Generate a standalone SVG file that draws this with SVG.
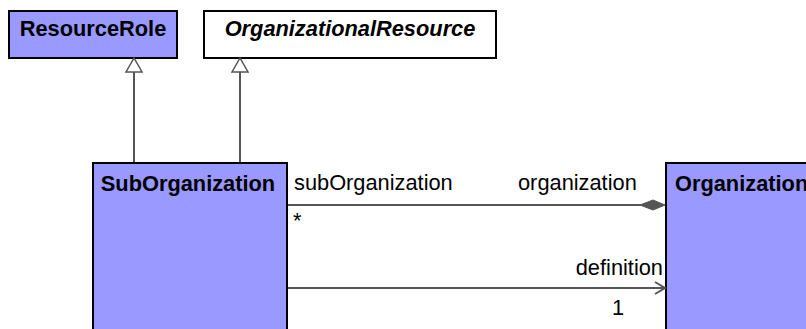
<svg xmlns="http://www.w3.org/2000/svg" width="806" height="329" viewBox="0 0 806 329">
<style>
.cls{stroke:#000;stroke-width:2}
.filled{fill:#9999FF}
.plain{fill:#fff}
.title{font-family:"Liberation Sans",Arial,sans-serif;font-size:21.8px;font-weight:bold;fill:#000}
.lbl{font-family:"Liberation Sans",Arial,sans-serif;font-size:21.8px;fill:#000}
.conn{stroke:#555;stroke-width:2;fill:none}
</style>
<rect width="806" height="329" fill="#fff"/>
<g id="ResourceRole">
<rect class="cls filled" x="9" y="11" width="168" height="47"/>
<text class="title" x="93" y="36" text-anchor="middle">ResourceRole</text>
</g>
<g id="OrganizationalResource">
<rect class="cls plain" x="204" y="11" width="292" height="47"/>
<text class="title" x="350" y="36" text-anchor="middle" font-style="italic">OrganizationalResource</text>
</g>
<g id="SubOrganization">
<rect class="cls filled" x="93" y="163" width="194" height="180"/>
<text class="title" x="188" y="191" text-anchor="middle">SubOrganization</text>
</g>
<g id="Organization">
<rect class="cls filled" x="666" y="163" width="160" height="180"/>
<text class="title" x="675" y="191">Organization</text>
</g>
<g id="connectors">
<line class="conn" x1="134" y1="72" x2="134" y2="162"/>
<polygon points="134,58 126,72 142,72" fill="#fff" stroke="#555" stroke-width="1.5"/>
<line class="conn" x1="240" y1="72" x2="240" y2="162"/>
<polygon points="240,58 232,72 248,72" fill="#fff" stroke="#555" stroke-width="1.5"/>
<line class="conn" x1="288" y1="205" x2="641" y2="205"/>
<polygon points="640,205 653,200 665,205 653,210" fill="#555" stroke="#555" stroke-width="1"/>
<line class="conn" x1="288" y1="288" x2="664" y2="288"/>
<polyline class="conn" points="655,282 665,288 655,294"/>
<text class="lbl" x="294" y="190">subOrganization</text>
<text class="lbl" x="518" y="190">organization</text>
<text class="lbl" x="293" y="228">*</text>
<text class="lbl" x="663" y="275" text-anchor="end">definition</text>
<text class="lbl" x="612" y="315">1</text>
</g>
</svg>
